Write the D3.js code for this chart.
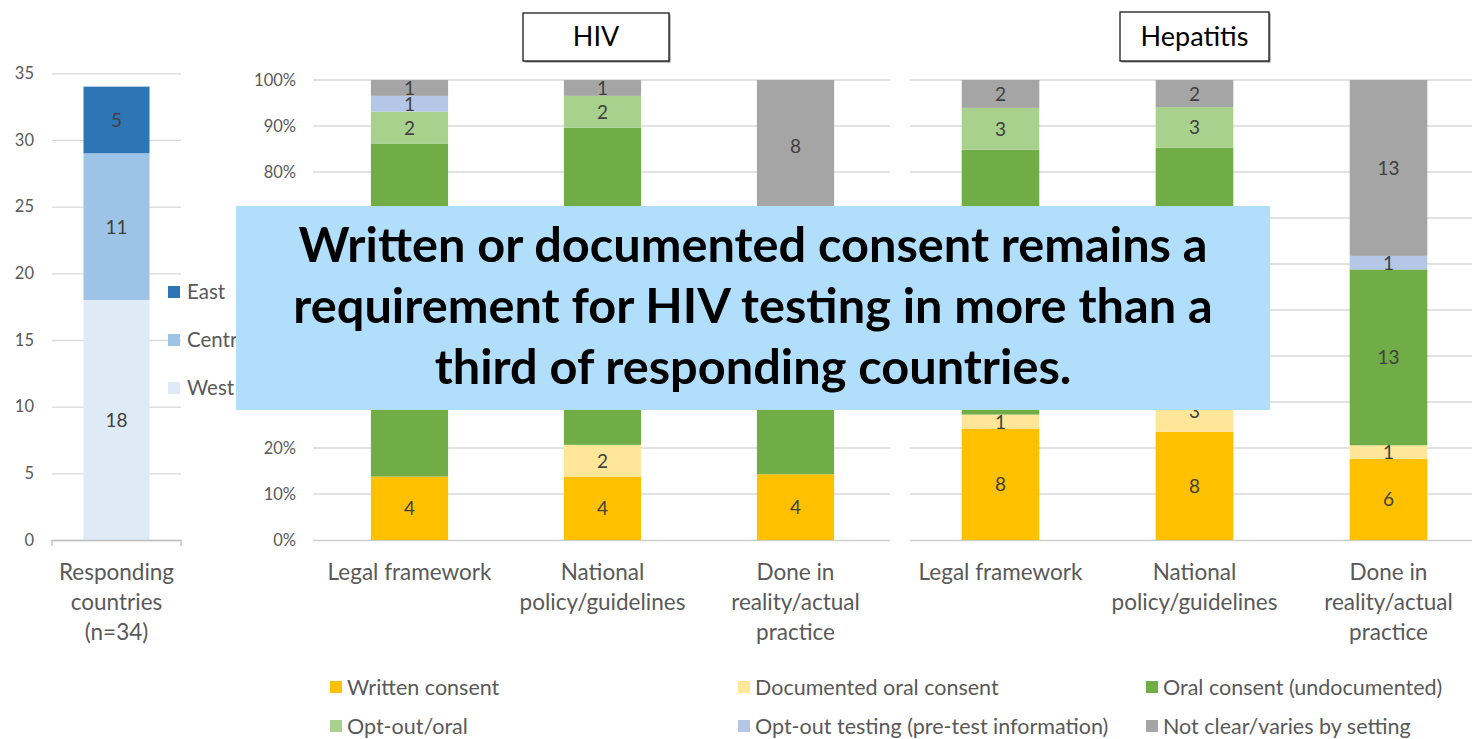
<!DOCTYPE html>
<html><head><meta charset="utf-8">
<script src="https://cdn.jsdelivr.net/npm/d3@7"></script>
<style>body{margin:0;background:#fff;} svg{display:block;}</style>
</head><body>
<svg id="c" width="1472" height="739"></svg>
<script>
// ---------- DATA ----------
const regions = ["West", "Central", "East"];
const regionValues = [18, 11, 5];
const regionLegend = ["East", "Central", "West"];
const regionTicks = [0, 5, 10, 15, 20, 25, 30, 35];
const regionCategoryLines = ["Responding", "countries", "(n=34)"];

const categories = ["Legal framework", "National policy/guidelines", "Done in reality/actual practice"];
const categoryLines = [["Legal framework"], ["National", "policy/guidelines"], ["Done in", "reality/actual", "practice"]];
const consentTypes = ["Written consent", "Documented oral consent", "Oral consent (undocumented)",
  "Opt-out/oral", "Opt-out testing (pre-test information)", "Not clear/varies by setting"];

const hivWritten        = [4, 4, 4];
const hivDocumentedOral = [0, 2, 0];
const hivOral           = [21, 20, 16];
const hivOptOutOral     = [2, 2, 0];
const hivOptOutTesting  = [1, 0, 0];
const hivNotClear       = [1, 1, 8];

const hepWritten        = [8, 8, 6];
const hepDocumentedOral = [1, 3, 1];
const hepOral           = [19, 18, 13];
const hepOptOutOral     = [3, 3, 0];
const hepOptOutTesting  = [0, 0, 1];
const hepNotClear       = [2, 2, 13];

const pctTicks = [0, 0.1, 0.2, 0.3, 0.4, 0.5, 0.6, 0.7, 0.8, 0.9, 1];
const panelTitles = ["HIV", "Hepatitis"];
const overlayLines = ["Written or documented consent remains a",
  "requirement for HIV testing in more than a",
  "third of responding countries."];

// ---------- STYLE ----------
const regionColors = {West: "#deebf7", Central: "#9dc3e6", East: "#2e75b6"};
const consentColors = ["#ffc000", "#ffe699", "#70ad47", "#a9d18e", "#b4c7e7", "#a5a5a5"];
const FONT = "Lato, 'Open Sans', sans-serif";
const TXT = "#595959";
const GRID = "#d9d9d9";
const LABEL_FS = "19px", CAT_FS = "22.5px", LEG_FS = "21.5px";

const svg = d3.select("#c");

// ---------- LEFT CHART ----------
(function () {
  const y = d3.scaleLinear().domain([0, 35]).range([540, 73.3]);
  const x = d3.scaleBand().domain(["Responding countries (n=34)"]).range([52, 181]).padding(0.323);
  const g = svg.append("g");
  const ax = g.append("g").attr("transform", "translate(52,0)")
    .call(d3.axisLeft(y).tickValues(regionTicks).tickSize(-(181 - 52)).tickPadding(18));
  ax.select(".domain").remove();
  ax.selectAll("line").attr("stroke", GRID).attr("stroke-width", 1.3);
  ax.selectAll("text").attr("fill", TXT).style("font-family", FONT).style("font-size", "16.5px");

  const row = {cat: x.domain()[0]};
  regions.forEach((r, i) => row[r] = regionValues[i]);
  const stack = d3.stack().keys(regions)([row]);
  g.selectAll("rect.seg").data(stack).join("rect")
    .attr("x", x(row.cat)).attr("width", x.bandwidth())
    .attr("y", d => y(d[0][1])).attr("height", d => y(d[0][0]) - y(d[0][1]))
    .attr("fill", d => regionColors[d.key]);
  g.selectAll("text.lab").data(stack).join("text")
    .attr("x", x(row.cat) + x.bandwidth() / 2)
    .attr("y", d => (y(d[0][0]) + y(d[0][1])) / 2 + 7)
    .attr("text-anchor", "middle").attr("fill", "#404040")
    .style("font-family", FONT).style("font-size", LABEL_FS)
    .text(d => d[0][1] - d[0][0]);
  g.append("path").attr("d", `M52,546V540.5H181V546`).attr("fill", "none").attr("stroke", "#bfbfbf").attr("stroke-width", 1.3);
  regionCategoryLines.forEach((t, i) => g.append("text")
    .attr("x", x(row.cat) + x.bandwidth() / 2).attr("y", 580 + i * 30)
    .attr("text-anchor", "middle").attr("fill", TXT)
    .style("font-family", FONT).style("font-size", CAT_FS).text(t));
  regionLegend.forEach((r, i) => {
    g.append("rect").attr("x", 168).attr("y", 286 + i * 48).attr("width", 12).attr("height", 12).attr("fill", regionColors[r]);
    g.append("text").attr("x", 187).attr("y", 299 + i * 48).attr("fill", TXT)
      .style("font-family", FONT).style("font-size", "20.5px").text(r);
  });
})();

// ---------- PANELS ----------
const panelSeries = [
  [hivWritten, hivDocumentedOral, hivOral, hivOptOutOral, hivOptOutTesting, hivNotClear],
  [hepWritten, hepDocumentedOral, hepOral, hepOptOutOral, hepOptOutTesting, hepNotClear]
];
const panelRanges = [[313, 892], [903.5, 1485.5]];
const gridRanges = [[313, 890], [910, 1472]];
const titleBoxes = [[523, 13, 146, 48], [1120, 12, 149, 49]];
const yP = d3.scaleLinear().domain([0, 1]).range([540, 80]);

panelSeries.forEach((series, p) => {
  const g = svg.append("g");
  const x = d3.scaleBand().domain(categories).range(panelRanges[p]).paddingInner(0.6).paddingOuter(0.3);
  const gr = gridRanges[p];
  g.selectAll("line.grid").data(pctTicks.slice(1)).join("line")
    .attr("x1", gr[0]).attr("x2", gr[1]).attr("y1", d => yP(d)).attr("y2", d => yP(d))
    .attr("stroke", GRID).attr("stroke-width", 1.3);
  g.append("line").attr("x1", gr[0]).attr("x2", gr[1]).attr("y1", 540.5).attr("y2", 540.5)
    .attr("stroke", "#cfcfcf").attr("stroke-width", 1.3);
  if (p === 0) {
    const ax = g.append("g").attr("transform", `translate(${gr[0]},0)`)
      .call(d3.axisLeft(yP).tickValues(pctTicks).tickSize(0).tickPadding(17).tickFormat(d3.format(".0%")));
    ax.select(".domain").remove();
    ax.selectAll("text").attr("fill", TXT).style("font-family", FONT).style("font-size", "16.5px");
  }
  const rows = categories.map((c, i) => {
    const r = {cat: c};
    consentTypes.forEach((k, j) => r[k] = series[j][i]);
    return r;
  });
  const stack = d3.stack().keys(consentTypes).offset(d3.stackOffsetExpand)(rows);
  const layers = g.selectAll("g.layer").data(stack).join("g").attr("fill", (d, j) => consentColors[j]);
  layers.selectAll("rect").data(d => d.filter(s => s[1] > s[0])).join("rect")
    .attr("x", d => x(d.data.cat)).attr("width", x.bandwidth())
    .attr("y", d => yP(d[1])).attr("height", d => yP(d[0]) - yP(d[1]));
  stack.forEach((layer) => {
    layer.forEach(s => {
      const v = s.data[layer.key];
      if (!v) return;
      g.append("text").attr("x", x(s.data.cat) + x.bandwidth() / 2)
        .attr("y", (yP(s[0]) + yP(s[1])) / 2 + 7)
        .attr("text-anchor", "middle").attr("fill", "#404040")
        .style("font-family", FONT).style("font-size", LABEL_FS).text(v);
    });
  });
  categoryLines.forEach((lines, i) => lines.forEach((t, k) => g.append("text")
    .attr("x", x(categories[i]) + x.bandwidth() / 2).attr("y", 580 + k * 30)
    .attr("text-anchor", "middle").attr("fill", TXT)
    .style("font-family", FONT).style("font-size", CAT_FS).text(t)));
  const b = titleBoxes[p];
  g.append("rect").attr("x", b[0] + 1.5).attr("y", b[1] + 1.5).attr("width", b[2]).attr("height", b[3]).attr("fill", "#8a8a8a");
  g.append("rect").attr("x", b[0]).attr("y", b[1]).attr("width", b[2]).attr("height", b[3])
    .attr("fill", "#fff").attr("stroke", "#1a1a1a").attr("stroke-width", 1.3);
  g.append("text").attr("x", b[0] + b[2] / 2).attr("y", b[1] + b[3] / 2 + 9)
    .attr("text-anchor", "middle").attr("fill", "#000")
    .style("font-family", FONT).style("font-size", "27px").text(panelTitles[p]);
});

// ---------- BOTTOM LEGEND ----------
consentTypes.forEach((t, i) => {
  const col = i % 3, row = Math.floor(i / 3);
  const lx = 330 + col * 408, ly = 681 + row * 39;
  svg.append("rect").attr("x", lx).attr("y", ly).attr("width", 12).attr("height", 12).attr("fill", consentColors[i]);
  svg.append("text").attr("x", lx + 17).attr("y", ly + 14).attr("fill", TXT)
    .style("font-family", FONT).style("font-size", LEG_FS).text(t);
});

// ---------- OVERLAY ----------
svg.append("rect").attr("x", 236).attr("y", 206).attr("width", 1034).attr("height", 204).attr("fill", "#b0defb");
const ot = overlayLines.map((t, i) => svg.append("text")
  .attr("x", 753).attr("y", 262 + i * 61).attr("text-anchor", "middle").attr("fill", "#000")
  .style("font-family", FONT).style("font-weight", "bold").style("font-size", "40px").text(t));
const w0 = ot[0].node().getComputedTextLength();
const fs = 40 * 910 / w0;
ot.forEach(t => t.style("font-size", fs.toFixed(1) + "px"));
</script>
</body></html>
